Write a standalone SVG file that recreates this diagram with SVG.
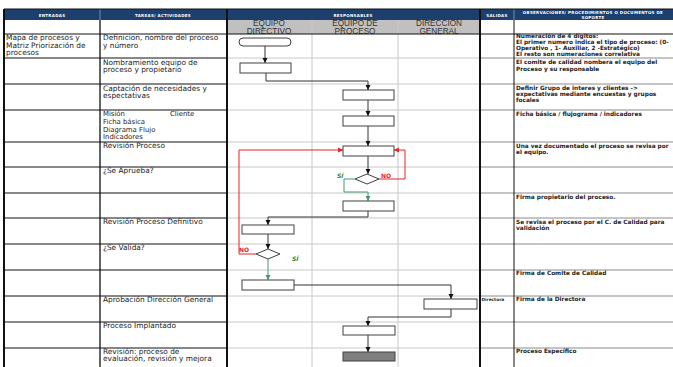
<svg xmlns="http://www.w3.org/2000/svg" width="673" height="367" viewBox="0 0 673 367">
<style>
.hd{font-family:"DejaVu Sans",sans-serif;font-weight:bold;font-size:4px;fill:#fff;text-anchor:middle;letter-spacing:0.3px}
.lh{font-family:"Liberation Sans",Arial,sans-serif;font-size:8.2px;fill:#333;text-anchor:middle}
.tx{font-family:"DejaVu Sans",sans-serif;font-size:7.4px;fill:#222}
.ts{font-family:"DejaVu Sans",sans-serif;font-size:6.9px;fill:#222}
.ob{font-family:"DejaVu Sans",sans-serif;font-weight:bold;font-size:5.8px;fill:#222}
.gl{stroke:#c8c8c8;stroke-width:1}
.bl{stroke:#111;stroke-width:1}
.ml{stroke:#8a8a8a;stroke-width:1}
.box{fill:#fff;stroke:#404040;stroke-width:1}
.cn{fill:none;stroke:#333;stroke-width:1}
.cr{fill:none;stroke:#e8232a;stroke-width:1}
.cg{fill:none;stroke:#3f9a6a;stroke-width:1}
.lr{font-family:"DejaVu Sans",sans-serif;font-weight:bold;font-size:6px;fill:#e8232a}
.lg{font-family:"DejaVu Sans",sans-serif;font-weight:bold;font-style:italic;font-size:6px;fill:#2e8b3e}
</style>
<defs>
<marker id="ak" markerWidth="6" markerHeight="6" refX="5" refY="3" orient="auto" markerUnits="userSpaceOnUse"><path d="M0,0.5 L5,3 L0,5.5 Z" fill="#111"/></marker>
<marker id="ar" markerWidth="6" markerHeight="6" refX="5" refY="3" orient="auto" markerUnits="userSpaceOnUse"><path d="M0,0.5 L5,3 L0,5.5 Z" fill="#e8232a"/></marker>
<marker id="ag" markerWidth="6" markerHeight="6" refX="5" refY="3" orient="auto" markerUnits="userSpaceOnUse"><path d="M0,0.5 L5,3 L0,5.5 Z" fill="#3f9a6a"/></marker>
</defs>
<rect width="673" height="367" fill="#fff"/>
<g id="table">
<rect x="4" y="9" width="669" height="11" fill="#1c3f6e"/>
<rect x="227" y="20" width="253" height="14" fill="#c0c0c0"/>
<line x1="100" y1="9" x2="100" y2="20" stroke="#8fa3c0" stroke-width="0.8"/>
<line x1="227" y1="9" x2="227" y2="20" stroke="#8fa3c0" stroke-width="0.8"/>
<line x1="480" y1="9" x2="480" y2="20" stroke="#8fa3c0" stroke-width="0.8"/>
<line x1="514" y1="9" x2="514" y2="20" stroke="#8fa3c0" stroke-width="0.8"/>
<text class="hd" x="52" y="16.5">ENTRADAS</text>
<text class="hd" x="163" y="16.5">TAREAS/ ACTIVIDADES</text>
<text class="hd" x="353" y="16.5">RESPONSABLES</text>
<text class="hd" x="497" y="16.5">SALIDAS</text>
<text class="hd" x="593" y="13.5">OBSERVACIONES/ PROCEDIMIENTOS O DOCUMENTOS DE</text>
<text class="hd" x="593" y="18.5">SOPORTE</text>
<text class="lh" x="269" y="25.5">EQUIPO</text>
<text class="lh" x="269" y="33.5">DIRECTIVO</text>
<text class="lh" x="355" y="25.5">EQUIPO DE</text>
<text class="lh" x="355" y="33.5">PROCESO</text>
<text class="lh" x="439" y="25.5">DIRECCION</text>
<text class="lh" x="439" y="33.5">GENERAL</text>
<g class="gl">
<line x1="312" y1="20" x2="312" y2="367"/>
<line x1="398" y1="20" x2="398" y2="367"/>
<line x1="227" y1="58" x2="480" y2="58"/>
<line x1="227" y1="84" x2="480" y2="84"/>
<line x1="227" y1="110" x2="480" y2="110"/>
<line x1="227" y1="142" x2="480" y2="142"/>
<line x1="227" y1="167" x2="480" y2="167"/>
<line x1="227" y1="193" x2="480" y2="193"/>
<line x1="227" y1="218" x2="480" y2="218"/>
<line x1="227" y1="244" x2="480" y2="244"/>
<line x1="227" y1="270" x2="480" y2="270"/>
<line x1="227" y1="296" x2="480" y2="296"/>
<line x1="227" y1="322" x2="480" y2="322"/>
<line x1="227" y1="348" x2="480" y2="348"/>
</g>
<g class="ml">
<line x1="480" y1="58" x2="673" y2="58"/>
<line x1="480" y1="84" x2="673" y2="84"/>
<line x1="480" y1="110" x2="673" y2="110"/>
<line x1="480" y1="142" x2="673" y2="142"/>
<line x1="480" y1="167" x2="673" y2="167"/>
<line x1="480" y1="193" x2="673" y2="193"/>
<line x1="480" y1="218" x2="673" y2="218"/>
<line x1="480" y1="244" x2="673" y2="244"/>
<line x1="480" y1="270" x2="673" y2="270"/>
<line x1="480" y1="296" x2="673" y2="296"/>
<line x1="480" y1="322" x2="673" y2="322"/>
<line x1="480" y1="348" x2="673" y2="348"/>
</g>
<g class="bl">
<line x1="4" y1="34" x2="673" y2="34"/>
<line x1="4" y1="58" x2="227" y2="58"/>
<line x1="4" y1="84" x2="227" y2="84"/>
<line x1="4" y1="110" x2="227" y2="110"/>
<line x1="4" y1="142" x2="227" y2="142"/>
<line x1="4" y1="167" x2="227" y2="167"/>
<line x1="4" y1="193" x2="227" y2="193"/>
<line x1="4" y1="218" x2="227" y2="218"/>
<line x1="4" y1="244" x2="227" y2="244"/>
<line x1="4" y1="270" x2="227" y2="270"/>
<line x1="4" y1="296" x2="227" y2="296"/>
<line x1="4" y1="322" x2="227" y2="322"/>
<line x1="4" y1="348" x2="227" y2="348"/>
<line x1="514" y1="20" x2="514" y2="367"/>
</g>
<line x1="4" y1="9" x2="673" y2="9" stroke="#111" stroke-width="1"/>
<line x1="4" y1="9" x2="4" y2="367" stroke="#111" stroke-width="2"/>
<line x1="100" y1="20" x2="100" y2="367" stroke="#111" stroke-width="1.3"/>
<line x1="227" y1="9" x2="227" y2="367" stroke="#111" stroke-width="2"/>
<line x1="480" y1="9" x2="480" y2="367" stroke="#111" stroke-width="2"/>
</g>
<g id="entradas">
<text class="tx" x="6" y="40">Mapa de procesos y</text>
<text class="tx" x="6" y="47.5">Matriz Priorización de</text>
<text class="tx" x="6" y="55">procesos</text>
</g>
<g id="tareas">
<text class="tx" x="103" y="40">Definicion, nombre del proceso</text>
<text class="tx" x="103" y="47.5">y número</text>
<text class="tx" x="103" y="64.5">Nombramiento equipo de</text>
<text class="tx" x="103" y="72">proceso y propietario</text>
<text class="tx" x="103" y="90.5">Captación de necesidades y</text>
<text class="tx" x="103" y="98">espectativas</text>
<text class="ts" x="103" y="116.3">Misión</text>
<text class="ts" x="170" y="116.3">Cliente</text>
<text class="ts" x="103" y="124">Ficha básica</text>
<text class="ts" x="103" y="131.7">Diagrama Flujo</text>
<text class="ts" x="103" y="139.4">Indicadores</text>
<text class="tx" x="103" y="147.5">Revisión Proceso</text>
<text class="tx" x="103" y="173">¿Se Aprueba?</text>
<text class="tx" x="103" y="224">Revisión Proceso Definitivo</text>
<text class="tx" x="103" y="250">¿Se Valida?</text>
<text class="tx" x="103" y="302">Aprobación Dirección General</text>
<text class="tx" x="103" y="328">Proceso Implantado</text>
<text class="tx" x="103" y="353.5">Revisión: proceso de</text>
<text class="tx" x="103" y="361">evaluación, revisión y mejora</text>
</g>
<g id="salidas">
<text class="ob" x="481.5" y="301" style="font-size:4.3px">Directora</text>
</g>
<g id="observaciones">
<text class="ob" x="516" y="38">Numeración de 4 dígitos:</text>
<text class="ob" x="516" y="44">El primer numero indica el tipo de proceso: (0-</text>
<text class="ob" x="516" y="50">Operativo , 1- Auxiliar,  2 -Estratégico)</text>
<text class="ob" x="516" y="56">El resto son numeraciones correlativa</text>
<text class="ob" x="516" y="64">El comite de calidad nombera el equipo del</text>
<text class="ob" x="516" y="71">Proceso y su responsable</text>
<text class="ob" x="516" y="90">Definir Grupo de interes y clientes -&gt;</text>
<text class="ob" x="516" y="96">expectativas mediante encuestas y grupos</text>
<text class="ob" x="516" y="102">focales</text>
<text class="ob" x="516" y="116">Ficha básica / flujograma / indicadores</text>
<text class="ob" x="516" y="148">Una vez documentado el proceso se revisa por</text>
<text class="ob" x="516" y="154">el equipo.</text>
<text class="ob" x="516" y="199">Firma propietario del proceso.</text>
<text class="ob" x="516" y="224">Se revisa el proceso por el C. de Calidad para</text>
<text class="ob" x="516" y="230">validación</text>
<text class="ob" x="516" y="275">Firma de Comite de Calidad</text>
<text class="ob" x="516" y="301">Firma de la Directora</text>
<text class="ob" x="516" y="353">Proceso Específico</text>
</g>
<g id="connectors">
<path class="cn" d="M265,46 V63" marker-end="url(#ak)"/>
<path class="cn" d="M266,73 V81 H368 V90" marker-end="url(#ak)"/>
<path class="cn" d="M368,100 V116" marker-end="url(#ak)"/>
<path class="cn" d="M368,126 V146" marker-end="url(#ak)"/>
<path class="cn" d="M368,156 V174" marker-end="url(#ak)"/>
<path class="cr" d="M379,179 H405 V150 H394" marker-end="url(#ar)"/>
<path class="cg" d="M355,179 H344 V192 H368 V201" marker-end="url(#ag)"/>
<path class="cn" d="M368,211 V217 H268 V225" marker-end="url(#ak)"/>
<path class="cn" d="M268,234 V249" marker-end="url(#ak)"/>
<path class="cr" d="M256,254 H239 V150 H343" marker-end="url(#ar)"/>
<path class="cg" d="M268,259 V280" marker-end="url(#ag)"/>
<path class="cn" d="M294,285 H451 V299" marker-end="url(#ak)"/>
<path class="cn" d="M451,309 V317 H368 V326" marker-end="url(#ak)"/>
<path class="cn" d="M368,335 V352" marker-end="url(#ak)"/>
<text class="lr" x="381" y="178">NO</text>
<text class="lg" x="337" y="178">SÍ</text>
<text class="lr" x="239" y="252">NO</text>
<text class="lg" x="292" y="261">SÍ</text>
</g>
<g id="n-inicio"><rect class="box" x="239" y="38" width="52" height="8" rx="4"/></g>
<g id="n-nombre"><rect class="box" x="240" y="63" width="51" height="10"/></g>
<g id="n-captacion"><rect class="box" x="343" y="90" width="51" height="10"/></g>
<g id="n-ficha"><rect class="box" x="343" y="116" width="51" height="10"/></g>
<g id="n-revision"><rect class="box" x="343" y="146" width="51" height="10"/></g>
<g id="n-aprueba"><polygon class="box" points="367,174 379,179 367,184 355,179"/></g>
<g id="n-firma"><rect class="box" x="343" y="201" width="51" height="10"/></g>
<g id="n-definitivo"><rect class="box" x="242" y="225" width="52" height="9"/></g>
<g id="n-valida"><polygon class="box" points="268,249 280,254 268,259 256,254"/></g>
<g id="n-comite"><rect class="box" x="242" y="280" width="52" height="10"/></g>
<g id="n-direccion"><rect class="box" x="424" y="299" width="53" height="10"/></g>
<g id="n-implantado"><rect class="box" x="343" y="326" width="52" height="9"/></g>
<g id="n-mejora"><rect x="343" y="352" width="52" height="9" fill="#808080" stroke="#404040"/></g>
</svg>
